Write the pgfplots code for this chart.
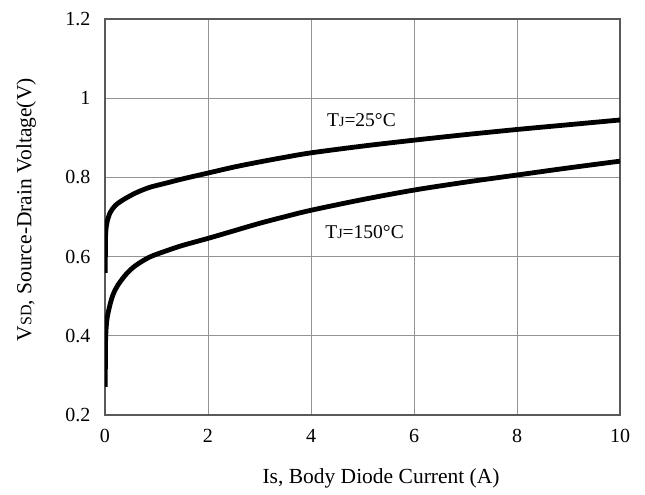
\documentclass[border=0pt]{standalone}
\usepackage{fontspec}
\setmainfont{Liberation Serif}
\usepackage{pgfplots}
\pgfplotsset{compat=1.18}
\begin{document}
\begin{tikzpicture}
\begin{axis}[
  at={(0,0)}, anchor=south west,
  scale only axis, width=515pt, height=396pt,
  xmin=0, xmax=10, ymin=0.2, ymax=1.2,
  xtick={0,2,4,6,8,10},
  ytick={0.2,0.4,0.6,0.8,1.0,1.2},
  yticklabels={0.2,0.4,0.6,0.8,1,1.2},
  grid=major,
  major grid style={gray!85, line width=0.9pt},
  axis line style={gray!70!black, line width=1.2pt},
  major tick length=0pt,
  /pgf/number format/assume math mode=true,
  tick label style={font=\fontsize{20}{20}\selectfont},
  xticklabel style={yshift=-11pt},
  yticklabel style={xshift=-11pt},
  label style={font=\fontsize{21.5}{24}\selectfont},
  xlabel={Is, Body Diode Current (A)},
  ylabel={V{\fontsize{16}{16}\selectfont SD}, Source-Drain Voltage(V)},
  xlabel style={at={(axis description cs:0.536,-0.159)}, anchor=center},
  ylabel style={at={(axis description cs:-0.153,0.518)}, anchor=center},
]
\addplot[black, line width=4.8pt, smooth, tension=0.5, line join=round] coordinates {
(0.005,0.559)(0.008,0.62)(0.012,0.655)(0.025,0.676)(0.045,0.69)(0.1,0.711)(0.2,0.729)(0.36,0.744)(0.6,0.761)(0.87,0.775)(1.2,0.786)(1.5,0.796)(2,0.811)(2.5,0.826)(3,0.839)(3.5,0.851)(4,0.862)(5,0.879)(6,0.894)(7,0.908)(8,0.921)(9,0.933)(10,0.945)
};
\addplot[black, line width=4.8pt, smooth, tension=0.5, line join=round] coordinates {
(0.005,0.271)(0.008,0.34)(0.012,0.39)(0.025,0.425)(0.045,0.448)(0.1,0.48)(0.16,0.505)(0.25,0.528)(0.42,0.557)(0.6,0.578)(0.87,0.599)(1.2,0.615)(1.5,0.628)(2,0.646)(2.5,0.665)(3,0.684)(3.5,0.701)(4,0.717)(5,0.744)(6,0.768)(7,0.788)(8,0.806)(9,0.824)(10,0.841)
};
\node[font=\fontsize{19.5}{20}\selectfont] at (axis cs:4.98,0.945) {T{\fontsize{14}{14}\selectfont J}=25°C};
\node[font=\fontsize{19.5}{20}\selectfont] at (axis cs:5.04,0.663) {T{\fontsize{14}{14}\selectfont J}=150°C};
\end{axis}
\path (-105pt,-80pt) rectangle (540pt,415pt);
\end{tikzpicture}
\end{document}
